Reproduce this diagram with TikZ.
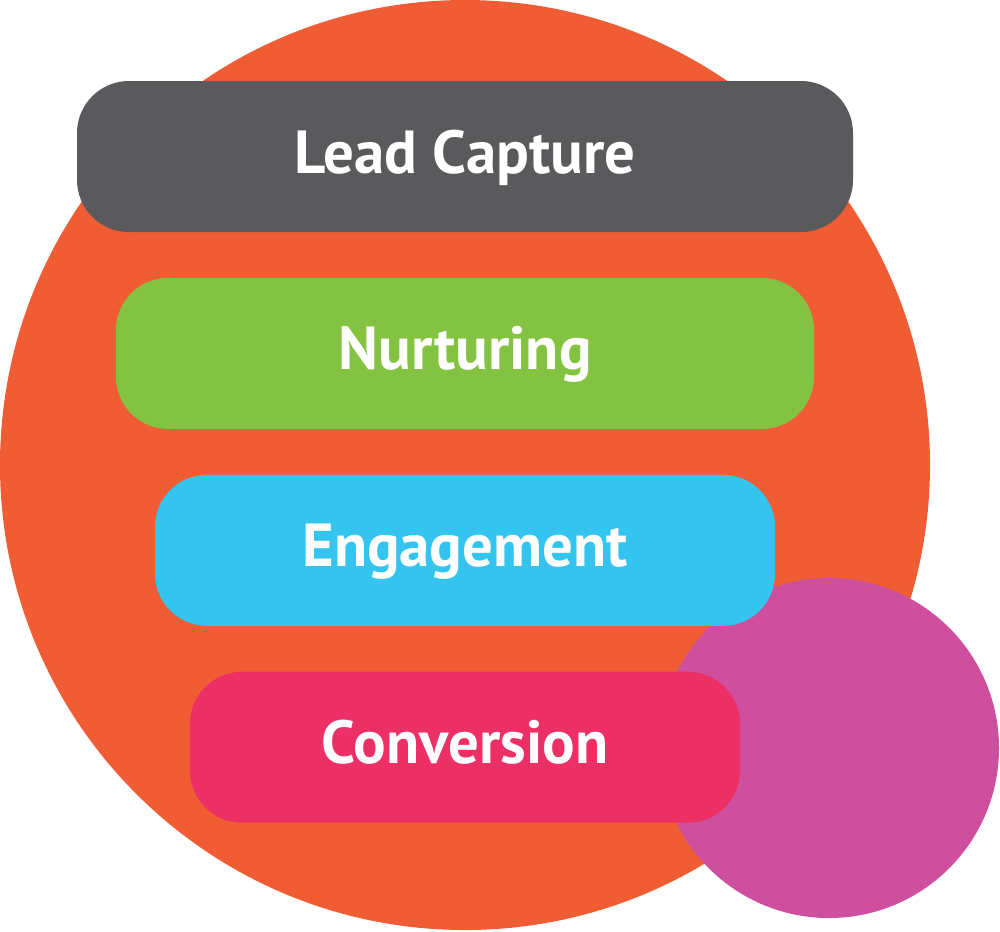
\documentclass[tikz,border=0pt]{standalone}
\usepackage{fontspec}
\setmainfont{PT Sans}
\usepackage{xcolor}
\usepackage{tikz}
\usetikzlibrary{positioning}
\definecolor{Blaze}{HTML}{F05D34}
\definecolor{Slate}{HTML}{5A5A5C}
\definecolor{Leaf}{HTML}{84C341}
\definecolor{Sky}{HTML}{33C4EF}
\definecolor{Rose}{HTML}{EC3066}
\definecolor{Orchid}{HTML}{CE4F9D}

\begin{document}
\begin{tikzpicture}[
  node distance=4.45mm,
  blob/.style={circle, inner sep=0pt},
  stage/.style={rounded corners=5.2mm, minimum height=15.1mm, inner sep=0pt, text=white, font=\bfseries\fontsize{17.3}{20}\selectfont, text height=4.1mm, text depth=0.8mm}
]
  \useasboundingbox (0,0) rectangle (10,9.31);
  \node[blob, fill=Blaze, minimum size=93mm] (funnel) at (4.65,4.66) {};
  \node[blob, fill=Orchid, minimum size=34mm] (goal) at (8.29,1.83) {};
  \node[stage, fill=Slate, minimum width=77.6mm] (lead) at (4.65,7.745) {Lead Capture};
  \node[stage, fill=Leaf, minimum width=69.8mm, below=of lead] (nurt) {Nurturing};
  \node[stage, fill=Sky, minimum width=62mm, below=of nurt] (engage) {Engagement};
  \node[stage, fill=Rose, minimum width=55mm, below=of engage] (convert) {Conversion};
\end{tikzpicture}
\end{document}
